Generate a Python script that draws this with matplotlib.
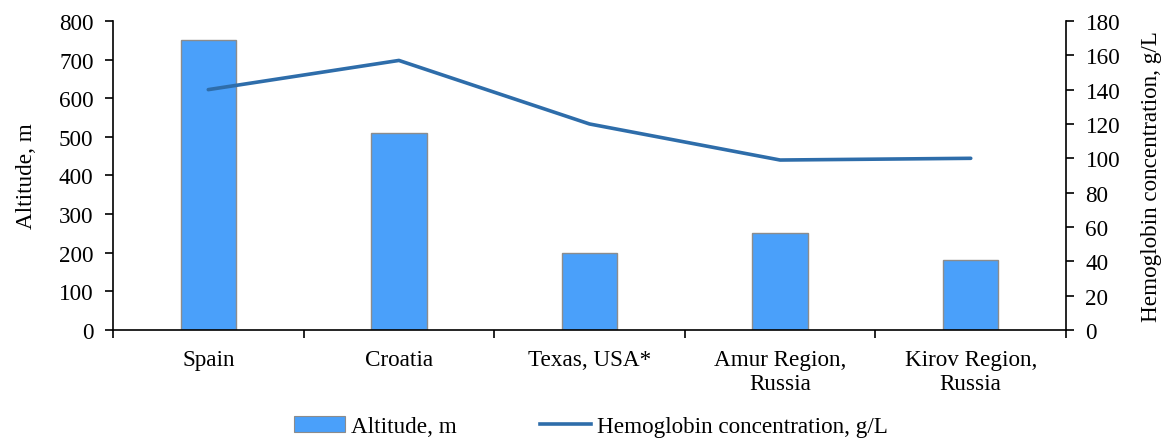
import matplotlib
matplotlib.use("Agg")
import matplotlib.pyplot as plt
import numpy as np
from matplotlib.patches import Patch
from matplotlib.lines import Line2D

plt.rcParams['font.family'] = ['Liberation Serif', 'DejaVu Serif']

categories = ["Spain", "Croatia", "Texas, USA*", "Amur Region,\nRussia", "Kirov Region,\nRussia"]
altitude_m = [750, 510, 200, 250, 180]
hemoglobin_gL = [140, 157, 120, 99, 100]

bar_color = "#4AA0FA"
line_color = "#2E6DAA"
fs = 16.7

fig = plt.figure(figsize=(11.72, 4.39), dpi=100)
ax = fig.add_axes([0.0964, 0.246, 0.8132, 0.704])
x = np.arange(len(categories))

ax.bar(x, altitude_m, width=0.29, color=bar_color, edgecolor="#8C8C8C", linewidth=1.0, zorder=2)
ax.set_xlim(-0.5, len(categories) - 0.5)
ax.set_ylim(0, 800)
ax.set_yticks(np.arange(0, 801, 100))
ax.set_xticks(x)
ax.set_xticklabels(categories, fontsize=fs, linespacing=1.15)
ax.tick_params(axis='x', length=0, pad=14)
ax.set_xticks(np.arange(-0.5, len(categories) + 0.5, 1), minor=True)
ax.tick_params(axis='x', which='minor', length=6, width=1.2, direction='out')
ax.tick_params(axis='y', labelsize=fs, length=6, width=1.2, direction='out', pad=8)
ax.set_ylabel("Altitude, m", fontsize=fs, labelpad=16)

ax2 = ax.twinx()
ax2.plot(x, hemoglobin_gL, color=line_color, linewidth=2.6, solid_capstyle='round', zorder=3)
ax2.set_ylim(0, 180)
ax2.set_yticks(np.arange(0, 181, 20))
ax2.tick_params(axis='y', labelsize=fs, length=6, width=1.2, direction='out', pad=8)
ax2.set_ylabel("Hemoglobin concentration, g/L", fontsize=fs, labelpad=15)

for a in (ax, ax2):
    a.spines['top'].set_visible(False)
    for s in ('left', 'right', 'bottom'):
        a.spines[s].set_linewidth(1.2)
        a.spines[s].set_color('black')
ax.spines['right'].set_visible(False)
ax2.spines['left'].set_visible(False)
ax2.spines['bottom'].set_visible(False)

handles = [Patch(facecolor=bar_color, edgecolor="#8C8C8C", linewidth=0.8),
           Line2D([0], [0], color=line_color, linewidth=2.6)]
fig.legend(handles, ["Altitude, m", "Hemoglobin concentration, g/L"],
           loc='lower center', bbox_to_anchor=(0.504, -0.045), ncol=2, frameon=False,
           fontsize=fs, columnspacing=3.6, handlelength=2.2, handletextpad=0.25)

fig.savefig("out.png", dpi=100)
